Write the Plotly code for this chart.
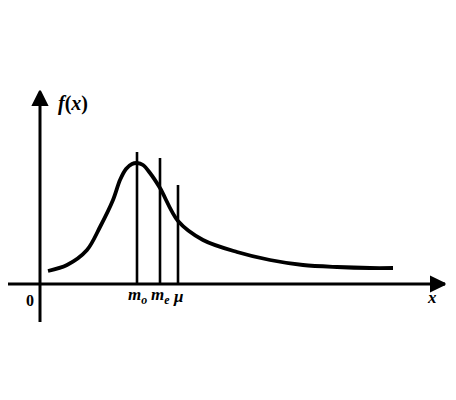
import plotly.graph_objects as go

# skewed density curve
curve_x = [0.16, 0.54, 0.94, 1.2, 1.46, 1.6, 1.72, 1.84, 1.94, 2.06, 2.2, 2.4, 2.76,
           3.26, 3.94, 4.6, 5.26, 5.94, 6.6, 7.06]
curve_y = [0.13, 0.19, 0.34, 0.57, 0.84, 1.04, 1.15, 1.2, 1.21, 1.19, 1.11, 0.96, 0.63,
           0.44, 0.32, 0.24, 0.19, 0.17, 0.16, 0.16]

# mode, median, mean markers
stat_names = ["m<sub>o</sub>", "m<sub>e</sub>", "μ"]
stat_x = [1.94, 2.4, 2.76]
stat_top = [1.32, 1.26, 0.99]

ink = "#000000"
serif = "Liberation Serif"

fig = go.Figure()
fig.add_trace(go.Scatter(
    x=curve_x, y=curve_y, mode="lines",
    line=dict(color=ink, width=3.8, shape="spline", smoothing=0.9),
    hoverinfo="skip", showlegend=False,
))
for sx, top in zip(stat_x, stat_top):
    fig.add_trace(go.Scatter(
        x=[sx, sx], y=[0, top], mode="lines",
        line=dict(color=ink, width=2.6),
        hoverinfo="skip", showlegend=False,
    ))

# axes with arrow heads
fig.add_trace(go.Scatter(
    x=[-0.7, 8.1], y=[0, 0], mode="lines+markers",
    line=dict(color=ink, width=3),
    marker=dict(symbol="arrow-right", size=[0, 14], color=ink, opacity=1,
                line=dict(color=ink, width=2)),
    hoverinfo="skip", showlegend=False,
))
fig.add_trace(go.Scatter(
    x=[0, 0], y=[-0.38, 1.93], mode="lines+markers",
    line=dict(color=ink, width=3),
    marker=dict(symbol="arrow-up", size=[0, 14], color=ink, opacity=1,
                line=dict(color=ink, width=2)),
    hoverinfo="skip", showlegend=False,
))

fig.add_annotation(x=0.66, y=1.81, text="<b><i>f</i>(<i>x</i>)</b>", showarrow=False,
                   font=dict(family=serif, size=20, color=ink))
fig.add_annotation(x=-0.2, y=-0.16, text="<b>0</b>", showarrow=False,
                   font=dict(family=serif, size=16, color=ink))
fig.add_annotation(x=7.84, y=-0.13, text="<b><i>x</i></b>", showarrow=False,
                   font=dict(family=serif, size=17, color=ink))
for name, sx in zip(stat_names, stat_x):
    fig.add_annotation(x=sx, y=-0.12, text=f"<b><i>{name}</i></b>", showarrow=False,
                       font=dict(family=serif, size=17, color=ink))

# page body keeps an 8px margin, so the ranges are shifted to compensate
fig.update_xaxes(range=[-0.64, 8.48], visible=False, fixedrange=True)
fig.update_yaxes(range=[-1.24, 2.76], visible=False, fixedrange=True)
fig.update_layout(
    width=456, height=400,
    margin=dict(l=0, r=0, t=0, b=0),
    paper_bgcolor="white", plot_bgcolor="white",
)
fig.write_html("out.html")
